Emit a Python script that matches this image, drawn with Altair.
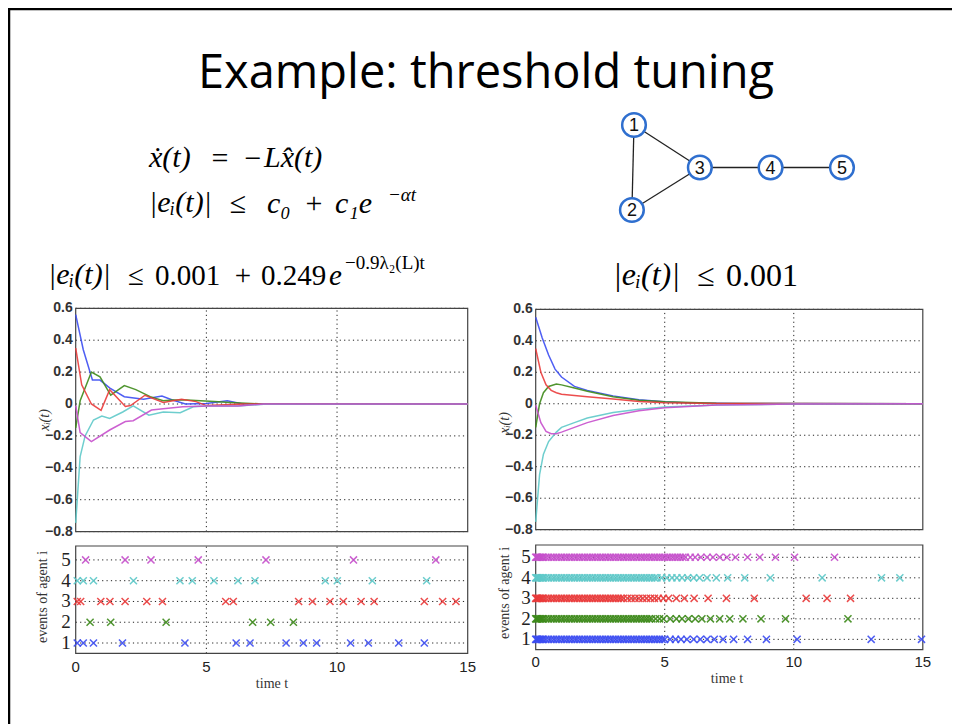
import altair as alt
import pandas as pd

W, H = 944, 716

# ---------------- data ----------------
agents = ["1", "2", "3", "4", "5"]
agent_colors = ["#3b4cf2", "#3d8a1a", "#ea3a3a", "#5ec9c9", "#c64fcc"]

# left panel: decaying threshold  (piecewise trajectories)
left_t = {
    "1": [0, 0.29, 0.64, 0.93, 1.31, 1.86, 2.6, 3.3, 3.7, 4.2, 5.0, 5.8, 6.4, 7.5, 15],
    "2": [0, 0.17, 0.6, 0.93, 1.34, 1.86, 2.3, 2.85, 3.35, 3.7, 4.25, 5.3, 5.9, 7.2, 15],
    "3": [0, 0.23, 0.6, 0.97, 1.3, 1.9, 2.1, 2.65, 3.35, 4.05, 4.6, 5.0, 6.4, 8.0, 15],
    "4": [0, 0.17, 0.36, 0.68, 1.0, 1.3, 1.8, 2.2, 2.8, 3.35, 4.0, 4.5, 5.0, 6.2, 7.2, 15],
    "5": [0, 0.17, 0.6, 1.3, 1.9, 2.2, 2.9, 3.35, 4.1, 5.0, 6.2, 7.2, 15],
}
left_v = {
    "1": [0.56, 0.34, 0.15, 0.15, 0.10, 0.046, 0.03, 0.05, 0.025, 0.0, 0.003, 0.02, 0.0, 0.0, 0.0],
    "2": [-0.15, 0.02, 0.2, 0.17, 0.056, 0.115, 0.09, 0.046, 0.02, 0.025, 0.025, 0.015, 0.01, 0.0, 0.0],
    "3": [0.35, 0.12, 0.0, -0.04, 0.09, -0.015, -0.01, 0.055, 0.01, 0.03, 0.015, -0.01, 0.0, 0.0, 0.0],
    "4": [-0.745, -0.33, -0.2, -0.1, -0.075, -0.09, -0.05, -0.012, -0.07, -0.05, -0.055, -0.017, -0.012, -0.012, -0.002, 0.0],
    "5": [-0.01, -0.18, -0.236, -0.163, -0.11, -0.105, -0.038, -0.03, -0.017, -0.012, -0.012, 0.0, 0.0],
}

# right panel: constant threshold (smooth trajectories)
right_t = {
    "1": [0, 0.25, 0.5, 0.75, 1.0, 1.5, 2, 3, 4, 5, 6, 8, 15],
    "2": [0, 0.15, 0.3, 0.5, 0.8, 1.0, 1.5, 2, 3, 4, 5, 7, 15],
    "3": [0, 0.2, 0.4, 0.6, 0.8, 1.0, 2, 3, 4, 5, 7, 15],
    "4": [0, 0.15, 0.3, 0.5, 0.8, 1.0, 1.5, 2, 3, 4, 5, 7, 10, 15],
    "5": [0, 0.2, 0.4, 0.6, 0.8, 1.0, 1.5, 2, 3, 4, 5, 7, 10, 15],
}
right_v = {
    "1": [0.55, 0.42, 0.31, 0.22, 0.17, 0.11, 0.085, 0.05, 0.025, 0.012, 0.005, 0.001, 0.0],
    "2": [-0.15, 0.0, 0.07, 0.11, 0.125, 0.12, 0.1, 0.08, 0.045, 0.023, 0.012, 0.003, 0.0],
    "3": [0.35, 0.2, 0.12, 0.085, 0.07, 0.06, 0.045, 0.03, 0.015, 0.007, 0.002, 0.0],
    "4": [-0.75, -0.45, -0.32, -0.24, -0.18, -0.15, -0.12, -0.09, -0.055, -0.035, -0.02, -0.008, -0.002, 0.0],
    "5": [-0.01, -0.12, -0.175, -0.19, -0.19, -0.18, -0.15, -0.12, -0.075, -0.045, -0.025, -0.008, -0.002, 0.0],
}

# event times (left)
left_events = {
    "1": [0.06, 0.29, 0.68, 1.79, 4.18, 6.14, 6.67, 8.05, 8.71, 9.22, 10.52, 11.2, 12.36, 13.34],
    "2": [0.55, 1.34, 3.46, 6.77, 7.46, 8.33],
    "3": [0.06, 0.19, 0.96, 1.31, 1.89, 2.72, 3.32, 5.74, 6.03, 8.53, 9.06, 9.73, 10.24, 10.92, 11.42, 13.34, 14.04, 14.55],
    "4": [0.06, 0.29, 0.68, 2.21, 3.99, 4.46, 5.29, 6.21, 6.86, 9.55, 10.01, 11.35, 13.43],
    "5": [0.38, 1.89, 2.88, 4.69, 7.28, 10.63, 13.78],
}
# event times (right) - dense at start, sparse later
right_events = {
    "1": [0.0, 0.03, 0.06, 0.1, 0.15, 0.2, 0.25, 0.3, 0.4, 0.5, 0.6, 0.7, 0.8, 0.9, 1.0, 1.1, 1.2,
          1.3, 1.4, 1.5, 1.6, 1.7, 1.8, 1.9, 2.0, 2.1, 2.2, 2.3, 2.4, 2.5, 2.6, 2.7, 2.8, 2.9, 3.0,
          3.1, 3.2, 3.3, 3.4, 3.5, 3.6, 3.7, 3.8, 3.9, 4.0, 4.1, 4.2, 4.3, 4.4, 4.5, 4.6, 4.7, 4.8,
          4.9, 5.0, 5.21, 5.42, 5.63, 5.86, 6.12, 6.38, 6.64, 6.92, 7.26, 7.67, 8.21, 8.94, 10.13,
          13.0, 14.95],
    "2": [0.0, 0.03, 0.06, 0.1, 0.15, 0.2, 0.25, 0.3, 0.4, 0.5, 0.6, 0.7, 0.8, 0.9, 1.0, 1.1, 1.2,
          1.3, 1.4, 1.5, 1.6, 1.7, 1.8, 1.9, 2.0, 2.1, 2.2, 2.3, 2.4, 2.5, 2.6, 2.7, 2.8, 2.9, 3.0,
          3.1, 3.2, 3.3, 3.4, 3.5, 3.6, 3.7, 3.8, 3.9, 4.0, 4.1, 4.2, 4.3, 4.4, 4.5, 4.65, 4.8,
          4.95, 5.21, 5.45, 5.67, 5.92, 6.18, 6.44, 6.77, 7.13, 7.52, 8.03, 8.73, 9.68, 12.1],
    "3": [0.0, 0.03, 0.06, 0.1, 0.15, 0.2, 0.25, 0.3, 0.4, 0.5, 0.6, 0.7, 0.8, 0.9, 1.0, 1.1, 1.2,
          1.3, 1.4, 1.5, 1.6, 1.7, 1.8, 1.9, 2.0, 2.1, 2.2, 2.3, 2.4, 2.5, 2.6, 2.7, 2.8, 2.9, 3.0,
          3.1, 3.2, 3.3, 3.4, 3.55, 3.7, 3.85, 4.0, 4.15, 4.3, 4.45, 4.6, 4.75, 4.95, 5.15, 5.45,
          5.76, 6.14, 6.68, 7.39, 8.47, 10.48, 11.29, 12.2],
    "4": [0.0, 0.03, 0.06, 0.1, 0.15, 0.2, 0.25, 0.3, 0.4, 0.5, 0.6, 0.7, 0.8, 0.9, 1.0, 1.1, 1.2,
          1.3, 1.4, 1.5, 1.6, 1.7, 1.8, 1.9, 2.0, 2.1, 2.2, 2.3, 2.4, 2.5, 2.6, 2.7, 2.8, 2.9, 3.0,
          3.1, 3.2, 3.3, 3.4, 3.5, 3.6, 3.7, 3.8, 3.9, 4.0, 4.1, 4.2, 4.3, 4.4, 4.5, 4.6, 4.7, 4.88,
          5.08, 5.28, 5.47, 5.67, 5.89, 6.12, 6.35, 6.64, 7.0, 7.44, 8.1, 9.09, 11.1, 13.4, 14.11],
    "5": [0.0, 0.03, 0.06, 0.1, 0.15, 0.2, 0.25, 0.3, 0.4, 0.5, 0.6, 0.7, 0.8, 0.9, 1.0, 1.1, 1.2,
          1.3, 1.4, 1.5, 1.6, 1.7, 1.8, 1.9, 2.0, 2.1, 2.2, 2.3, 2.4, 2.5, 2.6, 2.7, 2.8, 2.9, 3.0,
          3.1, 3.2, 3.3, 3.4, 3.5, 3.6, 3.7, 3.8, 3.9, 4.0, 4.1, 4.2, 4.3, 4.4, 4.5, 4.6, 4.7, 4.8,
          4.9, 5.0, 5.1, 5.2, 5.3, 5.4, 5.5, 5.6, 5.7, 5.8, 5.99, 6.18, 6.4, 6.64, 6.87, 7.13,
          7.41, 7.74, 8.21, 8.68, 9.29, 10.03, 11.58],
}

x_ticks = [0, 5, 10, 15]
x_labels = ["0", "5", "10", "15"]
y_ticks = [0.6, 0.4, 0.2, 0, -0.2, -0.4, -0.6, -0.8]
y_labels = ["0.6", "0.4", "0.2", "0", "\u22120.2", "\u22120.4", "\u22120.6", "\u22120.8"]
ev_ticks = [1, 2, 3, 4, 5]

# graph
node_ids = ["1", "2", "3", "4", "5"]
node_x = [0.0, -0.03, 0.95, 1.97, 3.0]
node_y = [1.0, -1.0, 0.0, 0.0, 0.0]
edges = [("1", "2"), ("1", "3"), ("2", "3"), ("3", "4"), ("4", "5")]

title_text = "Example: threshold tuning"

# ---------------- helpers ----------------
SERIF = "Liberation Serif"
SANS = "Liberation Sans"
one = pd.DataFrame({"a": [0]})
color_scale = alt.Scale(domain=agents, range=agent_colors)
XMARK = "M-1,-1L1,1M-1,1L1,-1"


def sc(domain, rng):
    return alt.Scale(domain=domain, range=rng, nice=False, zero=False)


def txt(text, x, y, size, italic=False, align="left", font=SERIF, angle=0, color="black"):
    kw = dict(text=text, font=font, fontSize=size, align=align, baseline="middle", color=color)
    if italic:
        kw["fontStyle"] = "italic"
    if angle:
        kw["angle"] = angle
    return alt.Chart(one).mark_text(**kw).encode(x=alt.value(x), y=alt.value(y))


def panel(xs, ys, xd, yd, hticks, vticks):
    layers = []
    grid_h = pd.DataFrame({"y": hticks, "x0": [xd[0]] * len(hticks), "x1": [xd[1]] * len(hticks)})
    layers.append(alt.Chart(grid_h).mark_rule(color="#222", strokeWidth=1, strokeDash=[1.2, 3.2]).encode(
        x=alt.X("x0:Q", scale=xs, axis=None), x2="x1:Q", y=alt.Y("y:Q", scale=ys, axis=None)))
    grid_v = pd.DataFrame({"x": vticks, "y0": [yd[0]] * len(vticks), "y1": [yd[1]] * len(vticks)})
    layers.append(alt.Chart(grid_v).mark_rule(color="#222", strokeWidth=1, strokeDash=[1.2, 3.2]).encode(
        x=alt.X("x:Q", scale=xs, axis=None), y=alt.Y("y0:Q", scale=ys, axis=None), y2="y1:Q"))
    frame = pd.DataFrame({"x0": [xd[0]], "x1": [xd[1]], "y0": [yd[0]], "y1": [yd[1]]})
    layers.append(alt.Chart(frame).mark_rect(fill="transparent", stroke="#444", strokeWidth=1.2).encode(
        x=alt.X("x0:Q", scale=xs, axis=None), x2="x1:Q",
        y=alt.Y("y0:Q", scale=ys, axis=None), y2="y1:Q"))
    return layers


def line_panel(tdict, vdict, xr, yr, xlab_x, xlab_y):
    xd, yd = [0, 15], [-0.8, 0.6]
    xs, ys = sc(xd, xr), sc(yd, yr)
    layers = panel(xs, ys, xd, yd, y_ticks, [5, 10])
    rows = []
    for a in agents:
        for t, v in zip(tdict[a], vdict[a]):
            rows.append({"agent": a, "t": t, "v": v})
    df = pd.DataFrame(rows)
    layers.append(alt.Chart(df).mark_line(strokeWidth=1.5, opacity=0.9).encode(
        x=alt.X("t:Q", scale=xs, axis=None), y=alt.Y("v:Q", scale=ys, axis=None),
        color=alt.Color("agent:N", scale=color_scale, legend=None)))
    lab = pd.DataFrame({"y": y_ticks, "lab": y_labels, "x0": [0] * len(y_ticks)})
    layers.append(alt.Chart(lab).mark_text(align="right", baseline="middle", dx=-3, font=SANS,
                                           fontSize=14, fontWeight="bold", color="#333").encode(
        x=alt.X("x0:Q", scale=xs, axis=None), y=alt.Y("y:Q", scale=ys, axis=None), text="lab:N"))
    layers.append(txt("x\u1d62(t)", xlab_x, xlab_y, 14, italic=True, align="center", angle=270, color="#333"))
    return layers


def event_panel(edict, xr, yr, yd, ylab_x, ylab_y, tlab_x, tlab_y, lab_dy):
    xd = [0, 15]
    xs, ys = sc(xd, xr), sc(yd, yr)
    layers = panel(xs, ys, xd, yd, ev_ticks, [5, 10])
    rows = []
    for a in agents:
        for t in edict[a]:
            rows.append({"agent": a, "t": t, "row": int(a)})
    df = pd.DataFrame(rows)
    layers.append(alt.Chart(df).mark_point(shape=XMARK, filled=False, size=50, strokeWidth=1.5,
                                           opacity=0.9).encode(
        x=alt.X("t:Q", scale=xs, axis=None), y=alt.Y("row:Q", scale=ys, axis=None),
        color=alt.Color("agent:N", scale=color_scale, legend=None)))
    ylab = pd.DataFrame({"y": ev_ticks, "lab": [str(v) for v in ev_ticks], "x0": [0] * 5})
    layers.append(alt.Chart(ylab).mark_text(align="right", baseline="middle", dx=-5, font=SERIF,
                                            fontSize=19, color="#222").encode(
        x=alt.X("x0:Q", scale=xs, axis=None), y=alt.Y("y:Q", scale=ys, axis=None), text="lab:N"))
    xlab = pd.DataFrame({"x": x_ticks, "lab": x_labels, "y0": [yd[0]] * 4})
    layers.append(alt.Chart(xlab).mark_text(align="center", baseline="middle", dy=lab_dy, font=SANS,
                                            fontSize=15, color="#222").encode(
        x=alt.X("x:Q", scale=xs, axis=None), y=alt.Y("y0:Q", scale=ys, axis=None), text="lab:N"))
    layers.append(txt("events of agent i", ylab_x, ylab_y, 14, align="center", angle=270, color="#333"))
    layers.append(txt("time t", tlab_x, tlab_y, 14, align="center", color="#333"))
    return layers


layers = []

# slide border (left and top edges)
layers.append(alt.Chart(one).mark_rule(color="black", strokeWidth=2.5).encode(
    x=alt.value(1), y=alt.value(0), y2=alt.value(H)))
layers.append(alt.Chart(one).mark_rule(color="black", strokeWidth=2.5).encode(
    y=alt.value(1), x=alt.value(0), x2=alt.value(W)))

# title
layers.append(txt(title_text, 478, 66, 47, align="center", font="Open Sans"))

# formula line 1:  x'(t) = -L x^(t)
layers.append(txt("\u1e8b(t)", 141, 150, 30, italic=True))
layers.append(txt("=", 212, 151, 30, align="center"))
layers.append(txt("\u2212", 245, 151, 30, align="center"))
layers.append(txt("Lx\u0302(t)", 256, 150, 30, italic=True))
# formula line 2:  |e_i(t)| <= c0 + c1 e^{-alpha t}
layers.append(txt("|e\u1d62(t)|", 141, 195, 30, italic=True))
layers.append(txt("\u2264", 230, 196, 30, align="center"))
layers.append(txt("c\u2080", 259, 196, 30, italic=True))
layers.append(txt("+", 306, 196, 30, align="center"))
layers.append(txt("c\u2081e", 327, 196, 30, italic=True))
layers.append(txt("\u2212\u03b1t", 380, 187, 19, italic=True))

# left subtitle
layers.append(txt("|e\u1d62(t)|", 40, 267, 30, italic=True))
layers.append(txt("\u2264", 128, 268, 29, align="center"))
layers.append(txt("0.001", 147, 268, 29))
layers.append(txt("+", 235, 268, 29, align="center"))
layers.append(txt("0.249", 253, 268, 29))
layers.append(txt("e", 321, 268, 29, italic=True))
layers.append(txt("\u22120.9\u03bb\u2082(L)t", 337, 255, 19))
# right subtitle
layers.append(txt("|e\u1d62(t)|", 605, 267, 32, italic=True))
layers.append(txt("\u2264", 698, 268, 32, align="center"))
layers.append(txt("0.001", 718, 268, 32))

# graph
gx = sc([0, 3], [626, 834])
gy = sc([-1, 1], [202, 117])
pos = {n: (x, y) for n, x, y in zip(node_ids, node_x, node_y)}
edge_df = pd.DataFrame([{"x": pos[a][0], "y": pos[a][1], "x2": pos[b][0], "y2": pos[b][1]} for a, b in edges])
layers.append(alt.Chart(edge_df).mark_rule(color="#222", strokeWidth=1.3).encode(
    x=alt.X("x:Q", scale=gx, axis=None), y=alt.Y("y:Q", scale=gy, axis=None), x2="x2:Q", y2="y2:Q"))
node_df = pd.DataFrame({"id": node_ids, "x": node_x, "y": node_y})
layers.append(alt.Chart(node_df).mark_point(shape="circle", filled=True, fill="white", stroke="#2f6fcf",
                                            strokeWidth=2.5, size=560, opacity=1).encode(
    x=alt.X("x:Q", scale=gx, axis=None), y=alt.Y("y:Q", scale=gy, axis=None)))
layers.append(alt.Chart(node_df).mark_text(font="Liberation Sans", fontSize=18, color="#111",
                                           baseline="middle", dy=1).encode(
    x=alt.X("x:Q", scale=gx, axis=None), y=alt.Y("y:Q", scale=gy, axis=None), text="id:N"))

# panels
layers += line_panel(left_t, left_v, [67.7, 459.7], [523.6, 300.3], 37, 412)
layers += line_panel(right_t, right_v, [527.7, 914.8], [521.7, 301.3], 497, 415)
layers += event_panel(left_events, [67.7, 459.7], [645.4, 538], [0.5, 5.67], 35, 589, 264, 676, 14)
layers += event_panel(right_events, [527.7, 914.8], [641.6, 537], [0.5, 5.6], 497, 585, 719, 671, 12)

chart = alt.layer(*layers).resolve_scale(x="independent", y="independent", color="independent").properties(
    width=W, height=H, autosize=alt.AutoSizeParams(type="none"), padding=0,
    background="white"
).configure_view(stroke=None)

chart.save("out.html", embed_options={"renderer": "svg", "actions": False})
